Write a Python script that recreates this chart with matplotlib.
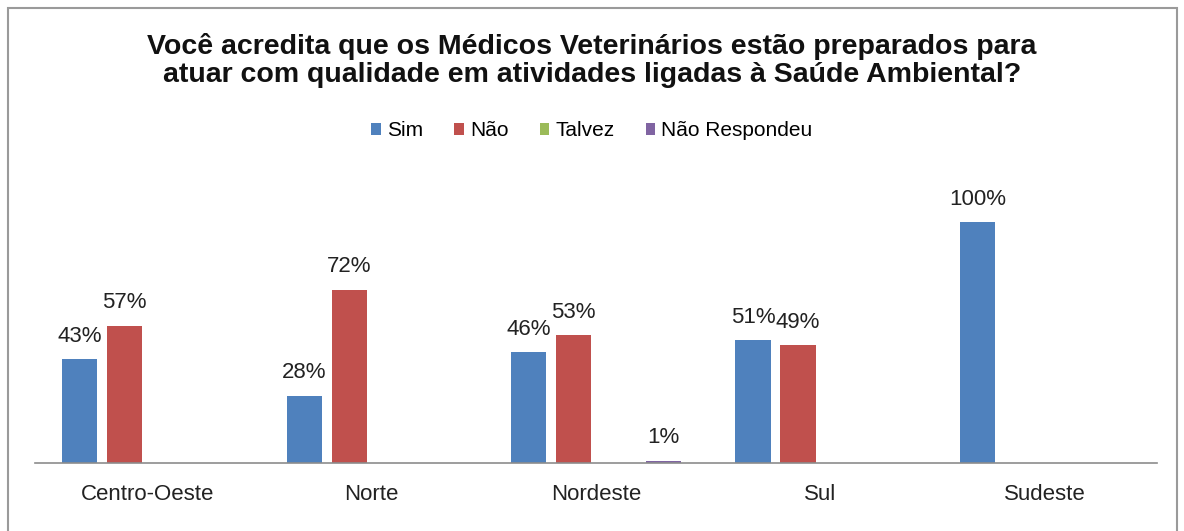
import numpy as np
import matplotlib
matplotlib.use("Agg")
import matplotlib.pyplot as plt
from matplotlib.patches import Rectangle

plt.rcParams['font.family'] = ['Liberation Sans', 'DejaVu Sans']

# data
regioes = ['Centro-Oeste', 'Norte', 'Nordeste', 'Sul', 'Sudeste']
series = ['Sim', 'Não', 'Talvez', 'Não Respondeu']
sim = [43, 28, 46, 51, 100]
nao = [57, 72, 53, 49, 0]
talvez = [0, 0, 0, 0, 0]
nao_resp = [0, 0, 1, 0, 0]
cores = ['#4F81BD', '#C0504D', '#9BBB59', '#8064A2']

W, H = 1184, 531
fig = plt.figure(figsize=(W / 100, H / 100), dpi=100)
ax = fig.add_axes([35 / W, (H - 463) / H, (1157 - 35) / W, (463 - 174) / H])

x = np.arange(len(regioes))
step = 0.2
bw = 0.157
valores = [sim, nao, talvez, nao_resp]
for i, (nome, vals, cor) in enumerate(zip(series, valores, cores)):
    pos = x + (i - 1.5) * step
    ax.bar(pos, vals, width=bw, color=cor, label=nome)
    for px, v in zip(pos, vals):
        if v > 0:
            ax.annotate(f'{v}%', (px, v), xytext=(0, 16.5), textcoords='offset points',
                        ha='center', va='center', fontsize=16, color='#222222')

ax.set_xlim(-0.5, len(regioes) - 0.5)
ax.set_ylim(0, 120)
ax.set_xticks(x)
ax.set_xticklabels(regioes, fontsize=16, color='#222222')
ax.tick_params(axis='x', length=0, pad=15)
ax.set_yticks([])
for s in ['left', 'right', 'top']:
    ax.spines[s].set_visible(False)
ax.spines['bottom'].set_color('#8c8c8c')
ax.spines['bottom'].set_linewidth(1.2)

# title, two lines placed separately
titulo = ['Você acredita que os Médicos Veterinários estão preparados para',
          'atuar com qualidade em atividades ligadas à Saúde Ambiental?']
for linha, yy in zip(titulo, [47, 75]):
    fig.text(592 / W, 1 - yy / H, linha, ha='center', va='center',
             fontsize=20.5, fontweight='bold', color='#111111')

leg = fig.legend(loc='center', bbox_to_anchor=(592 / W, 1 - 131 / H), ncol=4,
                 frameon=False, fontsize=15, handlelength=0.45, handleheight=0.45,
                 handletextpad=0.3, columnspacing=1.5)

# chart border
fig.patches.append(Rectangle((8 / W, -0.01), (1177 - 8) / W, 1.01 - 8 / H,
                             transform=fig.transFigure, fill=False,
                             edgecolor='#9a9a9a', linewidth=1.5))

fig.savefig('out.png', dpi=100)
